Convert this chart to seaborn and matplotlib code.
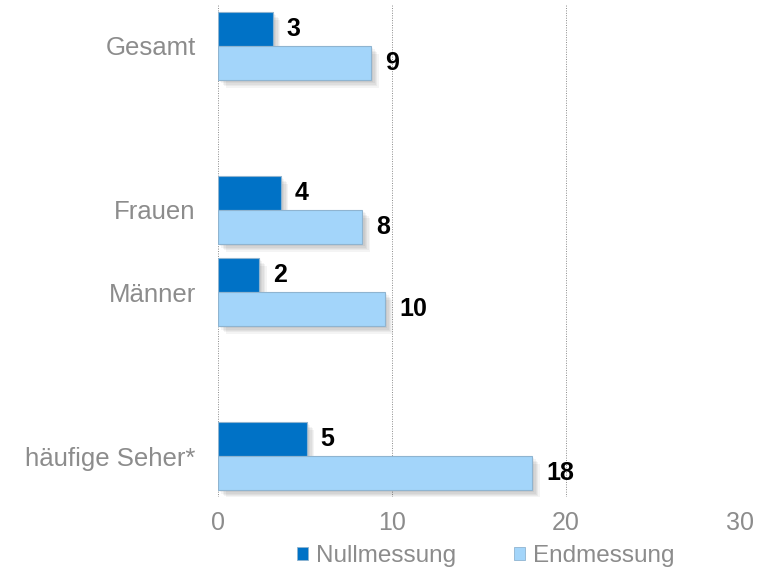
import matplotlib
matplotlib.use("Agg")
import matplotlib.pyplot as plt
import matplotlib.patheffects as pe
import seaborn as sns
import pandas as pd

# data
groups = ["Gesamt", "Frauen", "Männer", "häufige Seher*"]
nullmessung = [3.15, 3.6, 2.35, 5.1]
endmessung = [8.8, 8.3, 9.6, 18.05]
series = ["Nullmessung", "Endmessung"]
colors = ["#0072C6", "#A3D5FA"]
# blank slots keep the gaps between the groups
order = ["Gesamt", "", "Frauen", "Männer", " ", "häufige Seher*"]
x_ticks = [0, 10, 20, 30]

df = pd.DataFrame({
    "group": groups * 2,
    "value": nullmessung + endmessung,
    "series": [series[0]] * len(groups) + [series[1]] * len(groups),
})

sns.set_style("white")
plt.rcParams["font.family"] = ["Liberation Sans", "DejaVu Sans"]

fig = plt.figure(figsize=(7.69, 5.73), dpi=100)
ax = fig.add_axes([0.2835, 0.1326, 0.6788, 0.8587])

sns.barplot(data=df, y="group", x="value", hue="series", order=order,
            hue_order=series, palette=colors, saturation=1, orient="h", width=0.83,
            edgecolor="#8FB4D0", linewidth=0.8, legend=False, ax=ax)

# soft drop shadow
shadow = [pe.SimplePatchShadow(offset=(d, -d), shadow_rgbFace="black", alpha=0.045)
          for d in (0.5, 1.5, 2.5, 3.5, 4.5, 5.5)] + [pe.Normal()]
for patch in ax.patches:
    patch.set_path_effects(shadow)

for cont in ax.containers:
    ax.bar_label(cont, fmt="{:.0f}", padding=10, fontsize=18,
                 fontweight="bold", color="black")

ax.set_xlim(0, 30)
ax.set_xticks(x_ticks)
ax.set_xlabel("")
ax.set_ylabel("")
ax.grid(axis="x", linestyle=(0, (1, 1.5)), color="#8a8a8a", linewidth=0.7)
ax.set_axisbelow(True)
for s in ax.spines.values():
    s.set_visible(False)
ax.tick_params(axis="x", labelsize=18, labelcolor="#8c8c8c", pad=10, length=0)
ax.tick_params(axis="y", labelsize=18.5, labelcolor="#8c8c8c", pad=16, length=0)

handles = [plt.Rectangle((0, 0), 1, 1, facecolor=c, edgecolor="#8FB4D0", linewidth=0.6)
           for c in colors]
fig.legend(handles, series, loc="lower center", bbox_to_anchor=(0.632, -0.028),
           ncol=2, frameon=False, fontsize=17.5, handlelength=0.45, handleheight=0.45,
           handletextpad=0.33, columnspacing=2.4, labelcolor="#8c8c8c")

fig.savefig("out.png", dpi=100)
